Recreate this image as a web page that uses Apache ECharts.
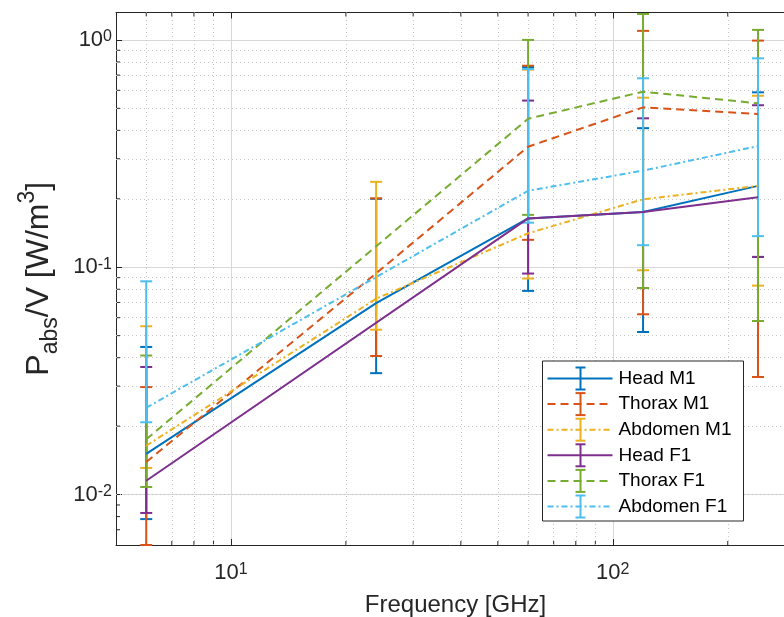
<!DOCTYPE html>
<html><head><meta charset="utf-8">
<script src="https://cdn.jsdelivr.net/npm/echarts@6/dist/echarts.min.js"></script>
<style>html,body{margin:0;padding:0;background:#fff;overflow:hidden}#c{width:784px;height:617px}</style>
</head><body><div id="c"></div>
<script>
// ---- data ----
const freq = [6, 24, 60, 120, 240];
const seriesNames = ['Head M1', 'Thorax M1', 'Abdomen M1', 'Head F1', 'Thorax F1', 'Abdomen F1'];

const headM1   = [0.0151, 0.0695, 0.164, 0.175, 0.228];
const headM1Lo = [0.0078, 0.0342, 0.0787, 0.0519, 0.111];
const headM1Hi = [0.0446, 0.200, 0.76, 0.409, 0.588];

const thoraxM1   = [0.0139, 0.094, 0.339, 0.505, 0.472];
const thoraxM1Lo = [0.0060, 0.0407, 0.132, 0.0621, 0.0329];
const thoraxM1Hi = [0.0297, 0.201, 0.77, 1.096, 0.993];

const abdomenM1   = [0.0164, 0.0727, 0.141, 0.199, 0.228];
const abdomenM1Lo = [0.0131, 0.0531, 0.0892, 0.097, 0.083];
const abdomenM1Hi = [0.0550, 0.2375, 0.74, 0.557, 0.568];

const headF1   = [0.0115, null, 0.164, 0.175, 0.203];
const headF1Lo = [0.0083, null, 0.0938, 0.081, 0.111];
const headF1Hi = [0.0364, null, 0.541, 0.452, 0.516];

const thoraxF1   = [0.0175, null, 0.45, 0.592, 0.526];
const thoraxF1Lo = [0.0108, null, 0.170, 0.081, 0.058];
const thoraxF1Hi = [0.0409, null, 1.0, 1.30, 1.107];

const abdomenF1   = [0.0241, null, 0.217, 0.266, 0.341];
const abdomenF1Lo = [0.0208, null, 0.157, 0.125, 0.137];
const abdomenF1Hi = [0.0867, null, 0.745, 0.678, 0.830];

const xMinor = [6, 7, 8, 9, 20, 30, 40, 50, 60, 70, 80, 90, 200];
const yMinor = [0.007, 0.008, 0.009, 0.02, 0.03, 0.04, 0.05, 0.06, 0.07, 0.08, 0.09,
                0.2, 0.3, 0.4, 0.5, 0.6, 0.7, 0.8, 0.9];

// ---- styling ----
const X_MIN = 5, X_MAX = 300, Y_MIN = 0.006, Y_MAX = 1.32;
const colors = ['#0072BD', '#D95319', '#EDB120', '#7E2F8E', '#77AC30', '#4DBEEE'];
const dashes = ['solid', [8, 5], [6, 3, 2, 3], 'solid', [8, 5], [6, 3, 2, 3]];
const means = [headM1, thoraxM1, abdomenM1, headF1, thoraxF1, abdomenF1];
const los = [headM1Lo, thoraxM1Lo, abdomenM1Lo, headF1Lo, thoraxF1Lo, abdomenF1Lo];
const his = [headM1Hi, thoraxM1Hi, abdomenM1Hi, headF1Hi, thoraxF1Hi, abdomenF1Hi];
const AX = '#262626';
const FONT = '"Liberation Sans", Arial, Helvetica, sans-serif';

function powLabel(v) {
  const l = Math.log10(v), e = Math.round(l);
  if (Math.abs(l - e) > 1e-6) return '';
  return '{b|10}{s|' + e + '}';
}
const richLab = {
  b: { fontSize: 22, fontFamily: FONT, color: AX, lineHeight: 22, padding: [9, 0, 0, 0], verticalAlign: 'bottom' },
  s: { fontSize: 16, fontFamily: FONT, color: AX, lineHeight: 16, verticalAlign: 'top' }
};

function errRender(color) {
  return function (params, api) {
    const x = api.value(0), lo = api.value(1), hi = api.value(2);
    const a = api.coord([x, lo]), b = api.coord([x, hi]);
    const w = 6;
    const st = { stroke: color, lineWidth: 2, fill: null };
    return { type: 'group', children: [
      { type: 'line', shape: { x1: a[0], y1: a[1], x2: b[0], y2: b[1] }, style: st },
      { type: 'line', shape: { x1: a[0] - w, y1: a[1], x2: a[0] + w, y2: a[1] }, style: st },
      { type: 'line', shape: { x1: b[0] - w, y1: b[1], x2: b[0] + w, y2: b[1] }, style: st }
    ]};
  };
}

const series = [];
// minor grid lines
series.push({
  type: 'line', data: [], silent: true, z: 1,
  markLine: {
    silent: true, symbol: 'none', label: { show: false }, animation: false,
    lineStyle: { color: '#c4c4c4', type: [1, 3], width: 1 },
    data: xMinor.map(v => ({ xAxis: v })).concat(yMinor.map(v => ({ yAxis: v })))
  }
});
// minor ticks
series.push({
  type: 'custom', silent: true, z: 3, data: xMinor.map(v => [v, Y_MIN]),
  renderItem: function (params, api) {
    const b = api.coord([api.value(0), Y_MIN]), t = api.coord([api.value(0), Y_MAX]);
    const st = { stroke: AX, lineWidth: 1 };
    return { type: 'group', children: [
      { type: 'line', shape: { x1: b[0], y1: b[1], x2: b[0], y2: b[1] - 4 }, style: st },
      { type: 'line', shape: { x1: t[0], y1: t[1], x2: t[0], y2: t[1] + 4 }, style: st }
    ]};
  }
});
series.push({
  type: 'custom', silent: true, z: 3, data: yMinor.map(v => [X_MIN, v]),
  renderItem: function (params, api) {
    const l = api.coord([X_MIN, api.value(1)]);
    return { type: 'line', shape: { x1: l[0], y1: l[1], x2: l[0] + 4, y2: l[1] }, style: { stroke: AX, lineWidth: 1 } };
  }
});

for (let i = 0; i < 6; i++) {
  const lineData = [], errData = [];
  for (let j = 0; j < freq.length; j++) {
    if (means[i][j] != null) lineData.push([freq[j], means[i][j]]);
    if (los[i][j] != null) errData.push([freq[j], los[i][j], his[i][j]]);
  }
  series.push({
    name: seriesNames[i], type: 'line', data: lineData, showSymbol: false, z: 5,
    lineStyle: { color: colors[i], width: 2, type: dashes[i] }, itemStyle: { color: colors[i] }
  });
  series.push({
    name: seriesNames[i] + ' err', type: 'custom', data: errData, z: 5,
    encode: { x: 0, y: [1, 2] }, renderItem: errRender(colors[i])
  });
}

// legend (drawn with graphic elements)
const legX = 542.5, legY = 361, legW = 201, legH = 160, rowH = 25.6;
const legend = [{ type: 'rect', shape: { x: legX, y: legY, width: legW, height: legH },
  style: { fill: '#fff', stroke: AX, lineWidth: 1 }, z: 100 }];
seriesNames.forEach((n, i) => {
  const cy = legY + 17.5 + i * rowH;
  const st = { stroke: colors[i], lineWidth: 2, lineDash: dashes[i] === 'solid' ? null : dashes[i] };
  legend.push({ type: 'line', shape: { x1: legX + 5, y1: cy, x2: legX + 70, y2: cy }, style: st, z: 101 });
  const bx = legX + 38, bs = { stroke: colors[i], lineWidth: 2 };
  legend.push({ type: 'line', shape: { x1: bx, y1: cy - 11, x2: bx, y2: cy + 11 }, style: bs, z: 101 });
  legend.push({ type: 'line', shape: { x1: bx - 5, y1: cy - 11, x2: bx + 5, y2: cy - 11 }, style: bs, z: 101 });
  legend.push({ type: 'line', shape: { x1: bx - 5, y1: cy + 11, x2: bx + 5, y2: cy + 11 }, style: bs, z: 101 });
  legend.push({ type: 'text', x: legX + 76, y: cy, z: 101,
    style: { text: n, fontSize: 19, fontFamily: FONT, fill: '#000', verticalAlign: 'middle', align: 'left' } });
});

const chart = echarts.init(document.getElementById('c'), null, { renderer: 'canvas' });
chart.setOption({
  animation: false,
  backgroundColor: '#fff',
  grid: { left: 116, top: 12.5, width: 679, height: 532.5, containLabel: false, outerBoundsMode: 'none' },
  xAxis: [{
    type: 'log', logBase: 10, min: X_MIN, max: X_MAX, position: 'bottom',
    name: 'Frequency [GHz]', nameLocation: 'middle', nameGap: 48,
    nameTextStyle: { fontSize: 24, fontFamily: FONT, color: AX },
    axisLine: { show: true, lineStyle: { color: AX, width: 1 } },
    axisTick: { show: true, inside: true, length: 6, lineStyle: { color: AX } },
    axisLabel: { formatter: powLabel, rich: richLab, margin: 17 },
    splitLine: { show: true, lineStyle: { color: '#d8d8d8', width: 1 } },
    minorTick: { show: false }, minorSplitLine: { show: false }
  }, {
    type: 'log', logBase: 10, min: X_MIN, max: X_MAX, position: 'top',
    axisLine: { show: true, lineStyle: { color: AX, width: 1 } },
    axisTick: { show: true, inside: true, length: 6, lineStyle: { color: AX } },
    axisLabel: { show: false }, splitLine: { show: false }
  }],
  yAxis: [{
    type: 'log', logBase: 10, min: Y_MIN, max: Y_MAX,
    name: '{n|P}{sub|abs}{n|/V [W/m}{sup|3}{n|]}', nameLocation: 'middle', nameGap: 56, nameRotate: 90,
    nameTextStyle: {
      fontSize: 32, fontFamily: FONT, color: AX,
      rich: {
        n: { fontSize: 32, fontFamily: FONT, color: AX, lineHeight: 32, padding: [7, 0, 0, 0], verticalAlign: 'top' },
        sub: { fontSize: 23, fontFamily: FONT, color: AX, lineHeight: 23, padding: [23, 0, 0, 0], verticalAlign: 'top' },
        sup: { fontSize: 23, fontFamily: FONT, color: AX, lineHeight: 23, verticalAlign: 'top' }
      }
    },
    axisLine: { show: true, lineStyle: { color: AX, width: 1 } },
    axisTick: { show: true, inside: true, length: 6, lineStyle: { color: AX } },
    axisLabel: { formatter: powLabel, rich: richLab, margin: 4 },
    splitLine: { show: true, lineStyle: { color: '#d8d8d8', width: 1 } }
  }],
  series: series,
  graphic: legend
});
</script></body></html>
